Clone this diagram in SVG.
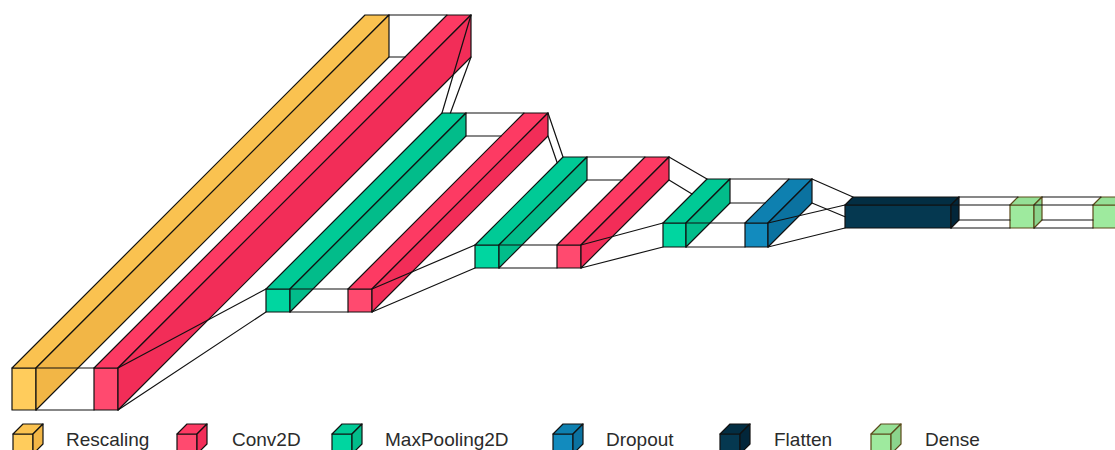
<svg xmlns="http://www.w3.org/2000/svg" width="1115" height="450" viewBox="0 0 1115 450">
<style>
  .b { stroke: #111; stroke-width: 1.2; stroke-linejoin: round; }
  .bd { stroke: #5a4a1a; stroke-width: 1.2; stroke-linejoin: round; }
  .rf { fill: #FFCC5C; } .rt { fill: #FAC250; } .rs { fill: #F2B646; }
  .cf { fill: #FF4A6F; } .ct { fill: #FD3A63; } .cs { fill: #F22D58; }
  .mf { fill: #00D6A0; } .mt { fill: #00CA96; } .ms { fill: #02BC8A; }
  .of { fill: #128BBE; } .ot { fill: #0E80B0; } .os { fill: #0B72A0; }
  .ff { fill: #053850; } .ft { fill: #032E43; } .fs { fill: #02263A; }
  .df { fill: #9EEA9E; } .dt { fill: #95E096; } .ds { fill: #8BD48C; }
  .conn { stroke: #111; stroke-width: 1.2; fill: none; stroke-linecap: round; }
  .lbl { font-family: "Liberation Sans", Arial, sans-serif; font-size: 19px; fill: #2b2b2b; }
</style>
<rect width="1115" height="450" fill="#ffffff"/>

<g id="rescaling" class="b">
  <rect class="rf" x="12" y="368" width="24" height="42"/>
  <polygon class="rt" points="12,368 365,15 389,15 36,368"/>
  <polygon class="rs" points="36,368 389,15 389,57 36,410"/>
</g>
<g id="conv2d_1" class="b">
  <rect class="cf" x="94" y="368" width="24" height="42"/>
  <polygon class="ct" points="94,368 447,15 471,15 118,368"/>
  <polygon class="cs" points="118,368 471,15 471,57 118,410"/>
</g>
<g id="maxpooling2d_1" class="b">
  <rect class="mf" x="266" y="289" width="24" height="23"/>
  <polygon class="mt" points="266,289 442,113 466,113 290,289"/>
  <polygon class="ms" points="290,289 466,113 466,136 290,312"/>
</g>
<g id="conv2d_2" class="b">
  <rect class="cf" x="348" y="289" width="24" height="23"/>
  <polygon class="ct" points="348,289 524,113 548,113 372,289"/>
  <polygon class="cs" points="372,289 548,113 548,136 372,312"/>
</g>
<g id="maxpooling2d_2" class="b">
  <rect class="mf" x="475" y="245" width="24" height="23"/>
  <polygon class="mt" points="475,245 563,157 587,157 499,245"/>
  <polygon class="ms" points="499,245 587,157 587,180 499,268"/>
</g>
<g id="conv2d_3" class="b">
  <rect class="cf" x="557" y="245" width="24" height="23"/>
  <polygon class="ct" points="557,245 645,157 669,157 581,245"/>
  <polygon class="cs" points="581,245 669,157 669,180 581,268"/>
</g>
<g id="maxpooling2d_3" class="b">
  <rect class="mf" x="663" y="223" width="23" height="24"/>
  <polygon class="mt" points="663,223 707,179 730,179 686,223"/>
  <polygon class="ms" points="686,223 730,179 730,203 686,247"/>
</g>
<g id="dropout" class="b">
  <rect class="of" x="745" y="223" width="23" height="24"/>
  <polygon class="ot" points="745,223 789,179 812,179 768,223"/>
  <polygon class="os" points="768,223 812,179 812,203 768,247"/>
</g>
<g id="flatten" class="b">
  <rect class="ff" x="845" y="205" width="106" height="23"/>
  <polygon class="ft" points="845,205 853,197 959,197 951,205"/>
  <polygon class="fs" points="951,205 959,197 959,220 951,228"/>
</g>
<g id="dense_1" class="bd">
  <rect class="df" x="1010" y="205" width="24" height="23"/>
  <polygon class="dt" points="1010,205 1018,197 1042,197 1034,205"/>
  <polygon class="ds" points="1034,205 1042,197 1042,220 1034,228"/>
</g>
<g id="dense_2" class="bd">
  <rect class="df" x="1093" y="205" width="24" height="23"/>
  <polygon class="dt" points="1093,205 1101,197 1125,197 1117,205"/>
  <polygon class="ds" points="1117,205 1125,197 1125,220 1117,228"/>
</g>

<g id="connectors" class="conn">
  <line x1="389" y1="15" x2="447" y2="15"/>
  <line x1="389" y1="57" x2="405" y2="57"/>
  <line x1="36" y1="368" x2="94" y2="368"/>
  <line x1="36" y1="410" x2="94" y2="410"/>

  <line x1="471" y1="15" x2="442" y2="113"/>
  <line x1="471" y1="57" x2="450.4" y2="113"/>
  <line x1="118" y1="368" x2="266" y2="289"/>
  <line x1="118" y1="410" x2="266" y2="312"/>

  <line x1="466" y1="113" x2="524" y2="113"/>
  <line x1="466" y1="136" x2="501" y2="136"/>
  <line x1="290" y1="289" x2="348" y2="289"/>
  <line x1="290" y1="312" x2="348" y2="312"/>

  <line x1="548" y1="113" x2="563" y2="157"/>
  <line x1="548" y1="136" x2="557.2" y2="162.8"/>
  <line x1="372" y1="289" x2="475" y2="245"/>
  <line x1="372" y1="312" x2="475" y2="268"/>

  <line x1="587" y1="157" x2="645" y2="157"/>
  <line x1="587" y1="180" x2="622" y2="180"/>
  <line x1="499" y1="245" x2="557" y2="245"/>
  <line x1="499" y1="268" x2="557" y2="268"/>

  <line x1="669" y1="157" x2="707" y2="179"/>
  <line x1="669" y1="180" x2="692" y2="194"/>
  <line x1="581" y1="245" x2="663" y2="223"/>
  <line x1="581" y1="268" x2="663" y2="247"/>

  <line x1="730" y1="179" x2="789" y2="179"/>
  <line x1="730" y1="203" x2="765" y2="203"/>
  <line x1="686" y1="223" x2="745" y2="223"/>
  <line x1="686" y1="247" x2="745" y2="247"/>

  <line x1="812" y1="179" x2="853" y2="197"/>
  <line x1="812" y1="203" x2="845" y2="216.7"/>
  <line x1="768" y1="223" x2="845" y2="205"/>
  <line x1="768" y1="247" x2="845" y2="228"/>

  <line x1="959" y1="197" x2="1018" y2="197"/>
  <line x1="959" y1="220" x2="1010" y2="220"/>
  <line x1="951" y1="205" x2="1010" y2="205"/>
  <line x1="951" y1="228" x2="1010" y2="228"/>

  <line x1="1042" y1="197" x2="1101" y2="197"/>
  <line x1="1042" y1="220" x2="1093" y2="220"/>
  <line x1="1034" y1="205" x2="1093" y2="205"/>
  <line x1="1034" y1="228" x2="1093" y2="228"/>
</g>

<g id="legend">
  <g id="legend-rescaling">
    <g class="b">
      <rect class="rf" x="13" y="434" width="20" height="20"/>
      <polygon class="rt" points="13,434 23,424 43,424 33,434"/>
      <polygon class="rs" points="33,434 43,424 43,444 33,454"/>
    </g>
    <text class="lbl" x="66" y="446">Rescaling</text>
  </g>
  <g id="legend-conv2d">
    <g class="b">
      <rect class="cf" x="177" y="434" width="20" height="20"/>
      <polygon class="ct" points="177,434 187,424 207,424 197,434"/>
      <polygon class="cs" points="197,434 207,424 207,444 197,454"/>
    </g>
    <text class="lbl" x="232" y="446">Conv2D</text>
  </g>
  <g id="legend-maxpooling2d">
    <g class="b">
      <rect class="mf" x="332" y="434" width="20" height="20"/>
      <polygon class="mt" points="332,434 342,424 362,424 352,434"/>
      <polygon class="ms" points="352,434 362,424 362,444 352,454"/>
    </g>
    <text class="lbl" x="385" y="446">MaxPooling2D</text>
  </g>
  <g id="legend-dropout">
    <g class="b">
      <rect class="of" x="553" y="434" width="20" height="20"/>
      <polygon class="ot" points="553,434 563,424 583,424 573,434"/>
      <polygon class="os" points="573,434 583,424 583,444 573,454"/>
    </g>
    <text class="lbl" x="606" y="446">Dropout</text>
  </g>
  <g id="legend-flatten">
    <g class="b">
      <rect class="ff" x="720" y="434" width="20" height="20"/>
      <polygon class="ft" points="720,434 730,424 750,424 740,434"/>
      <polygon class="fs" points="740,434 750,424 750,444 740,454"/>
    </g>
    <text class="lbl" x="774" y="446">Flatten</text>
  </g>
  <g id="legend-dense">
    <g class="bd">
      <rect class="df" x="871" y="434" width="20" height="20"/>
      <polygon class="dt" points="871,434 881,424 901,424 891,434"/>
      <polygon class="ds" points="891,434 901,424 901,444 891,454"/>
    </g>
    <text class="lbl" x="925" y="446">Dense</text>
  </g>
</g>
</svg>
